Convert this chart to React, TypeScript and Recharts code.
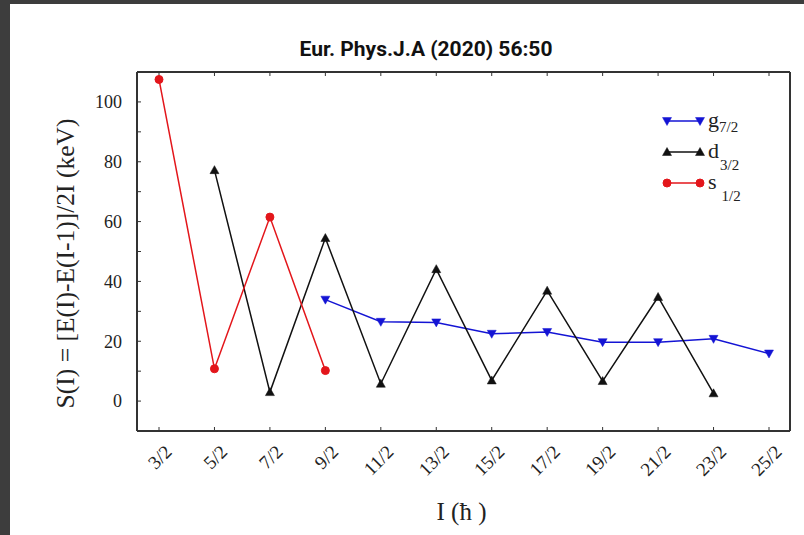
import { LineChart, Line, XAxis, YAxis, Legend, Label } from "recharts";

// spin values on the x axis
const spins = ["3/2", "5/2", "7/2", "9/2", "11/2", "13/2", "15/2", "17/2", "19/2", "21/2", "23/2", "25/2"];
// S(I) in keV
const s12 = [107.5, 10.8, 61.5, 10.2]; // 3/2 .. 9/2
const d32 = [77.2, 3.0, 54.5, 5.8, 44.1, 6.9, 36.9, 6.7, 34.8, 2.6]; // 5/2 .. 23/2
const g72 = [33.9, 26.5, 26.3, 22.5, 23.1, 19.7, 19.7, 20.8, 15.9]; // 9/2 .. 25/2
const yTicks = [0, 10, 20, 30, 40, 50, 60, 70, 80, 90, 100];

const data = spins.map((spin, i) => ({
  spin,
  g72: g72[i - 3] ?? null,
  d32: d32[i - 1] ?? null,
  s12: s12[i] ?? null,
}));

const RED = "#e3161b";
const BLUE = "#1414d4";
const BLACK = "#111";
const FRAME = "#333";
const SERIF = "'Liberation Serif', 'Times New Roman', serif";

const legendText: Record<string, { main: string; sub: string; dy: number; dx: number; y: number }> = {
  g72: { main: "g", sub: "7/2", dy: 4.5, dx: 0, y: 21 },
  d32: { main: "d", sub: "3/2", dy: 11.5, dx: 1, y: 52 },
  s12: { main: "s", sub: "1/2", dy: 11.5, dx: 5, y: 83 },
};

function Marker({ kind, cx, cy, color }: { kind: string; cx: number; cy: number; color: string }) {
  if (kind === "s12") return <circle cx={cx} cy={cy} r={4} fill={color} stroke={color} />;
  const h = 7;
  const w = 4.5;
  const pts =
    kind === "d32"
      ? `${cx},${cy - h / 2 - 1} ${cx - w},${cy + h / 2} ${cx + w},${cy + h / 2}`
      : `${cx},${cy + h / 2 + 1} ${cx - w},${cy - h / 2} ${cx + w},${cy - h / 2}`;
  return <polygon points={pts} fill={color} stroke={color} strokeWidth={0.5} />;
}

const makeDot = (kind: string, color: string) => (p: any) => {
  if (p.value == null || p.cy == null) return <g key={p.index} />;
  return (
    <g key={p.index}>
      <Marker kind={kind} cx={p.cx} cy={p.cy} color={color} />
    </g>
  );
};

const XTick = ({ x, y, payload }: any) => {
  const ax = x + 14;
  const ay = y + 24;
  return (
    <text
      x={ax}
      y={ay}
      transform={`rotate(-45 ${ax} ${ay})`}
      textAnchor="end"
      fontFamily={SERIF}
      fontSize={19}
      fill="#222"
    >
      {payload.value}
    </text>
  );
};

const YTick = ({ x, y, payload }: any) => {
  if (payload.value % 20 !== 0) return <g />;
  return (
    <text x={x - 17} y={y} dy="0.35em" textAnchor="end" fontFamily={SERIF} fontSize={18} fill="#222">
      {payload.value}
    </text>
  );
};

const EmptyTick = () => <g />;

const LegendBox = ({ payload }: any) => (
  <svg width={110} height={120}>
    {(payload || []).map((entry: any) => {
      const t = legendText[entry.dataKey];
      if (!t) return null;
      return (
        <g key={entry.dataKey}>
          <line x1={7} x2={40} y1={t.y} y2={t.y} stroke={entry.color} strokeWidth={1.5} />
          <Marker kind={entry.dataKey} cx={7} cy={t.y} color={entry.color} />
          <Marker kind={entry.dataKey} cx={40} cy={t.y} color={entry.color} />
          <text x={48} y={t.y + 6} fontFamily={SERIF} fontSize={22} fill="#222">
            {t.main}
            <tspan dx={t.dx} dy={t.dy} fontSize={15}>
              {t.sub}
            </tspan>
          </text>
        </g>
      );
    })}
  </svg>
);

const YLabel = ({ viewBox }: any) => {
  const cx = viewBox.x - 12;
  const cy = viewBox.y + viewBox.height / 2 + 12;
  return (
    <text
      x={cx}
      y={cy}
      transform={`rotate(-90 ${cx} ${cy})`}
      textAnchor="middle"
      dominantBaseline="central"
      fontFamily={SERIF}
      fontSize={25.5}
      fill="#222"
    >
      S(I) = [E(I)-E(I-1)]/2I (keV)
    </text>
  );
};

const XLabel = ({ viewBox }: any) => (
  <text
    x={viewBox.x + viewBox.width / 2 - 2}
    y={viewBox.y + 89}
    textAnchor="middle"
    fontFamily={SERIF}
    fontSize={25}
    fill="#222"
  >
    I (ħ )
  </text>
);

export default function App() {
  return (
    <div style={{ position: "absolute", left: 0, top: 0, width: 804, height: 535, background: "#3d3d3d" }}>
      <div style={{ position: "absolute", left: 10, top: 4, width: 794, height: 531, background: "#fff" }}>
        <div
          style={{
            position: "absolute",
            left: 416,
            top: 33,
            transform: "translateX(-50%)",
            whiteSpace: "nowrap",
            fontFamily: "Roboto, sans-serif",
            fontWeight: 700,
            fontSize: 21,
            color: "#111",
          }}
        >
          Eur. Phys.J.A (2020) 56:50
        </div>
        <LineChart width={794} height={531} data={data} margin={{ top: 67, right: 13, bottom: 44, left: 67 }}>
          <XAxis
            dataKey="spin"
            type="category"
            padding={{ left: 22, right: 21 }}
            interval={0}
            height={60}
            tickSize={-4}
            tick={<XTick />}
            axisLine={{ stroke: FRAME, strokeWidth: 2 }}
            tickLine={{ stroke: FRAME }}
          >
            <Label content={<XLabel />} />
          </XAxis>
          <XAxis
            xAxisId="top"
            dataKey="spin"
            type="category"
            orientation="top"
            padding={{ left: 22, right: 21 }}
            interval={0}
            height={1}
            tickSize={-4}
            tick={<EmptyTick />}
            axisLine={{ stroke: FRAME, strokeWidth: 2 }}
            tickLine={{ stroke: FRAME }}
          />
          <YAxis
            type="number"
            domain={[-10, 110]}
            ticks={yTicks}
            interval={0}
            width={60}
            tickSize={-4}
            tick={<YTick />}
            axisLine={{ stroke: FRAME, strokeWidth: 2 }}
            tickLine={{ stroke: FRAME }}
          >
            <Label content={<YLabel />} />
          </YAxis>
          <YAxis
            yAxisId="right"
            orientation="right"
            type="number"
            domain={[-10, 110]}
            ticks={yTicks}
            interval={0}
            width={1}
            tickSize={-4}
            tick={<EmptyTick />}
            axisLine={{ stroke: FRAME, strokeWidth: 2 }}
            tickLine={{ stroke: FRAME }}
          />
          <Legend
            layout="vertical"
            align="center"
            verticalAlign="middle"
            content={<LegendBox />}
            wrapperStyle={{ left: 650, top: 96, width: 110, height: 120 }}
          />
          <Line
            dataKey="g72"
            name="g7/2"
            stroke={BLUE}
            strokeWidth={1.5}
            dot={makeDot("g72", BLUE)}
            activeDot={false}
            isAnimationActive={false}
          />
          <Line
            dataKey="d32"
            name="d3/2"
            stroke={BLACK}
            strokeWidth={1.5}
            dot={makeDot("d32", BLACK)}
            activeDot={false}
            isAnimationActive={false}
          />
          <Line
            dataKey="s12"
            name="s1/2"
            stroke={RED}
            strokeWidth={1.5}
            dot={makeDot("s12", RED)}
            activeDot={false}
            isAnimationActive={false}
          />
        </LineChart>
      </div>
    </div>
  );
}
